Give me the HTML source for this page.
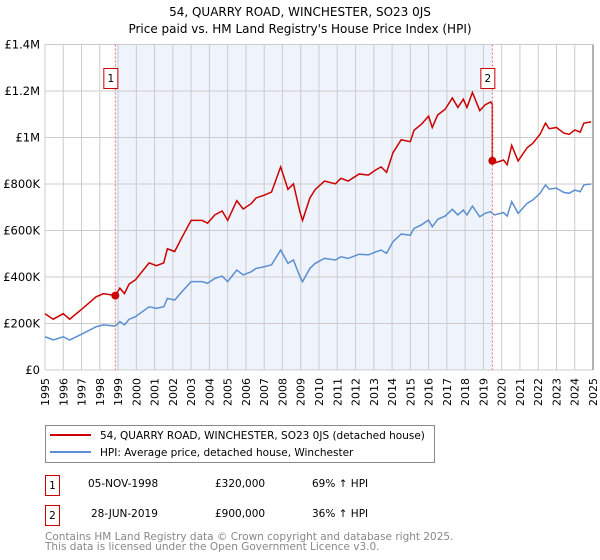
<!DOCTYPE html>
<html><head><meta charset="utf-8"><style>
body{margin:0;background:#fff;font-family:"DejaVu Sans","Liberation Sans",sans-serif}
svg{display:block}
</style></head><body>
<svg id="chart" width="600" height="560" xmlns="http://www.w3.org/2000/svg" font-family="DejaVu Sans, Liberation Sans, sans-serif">
<text x="300" y="16" text-anchor="middle" font-size="12">54, QUARRY ROAD, WINCHESTER, SO23 0JS</text>
<text x="300" y="33" text-anchor="middle" font-size="12">Price paid vs. HM Land Registry's House Price Index (HPI)</text>
<g id="plot"></g>
<g>
<rect x="45.5" y="425.5" width="389" height="37" fill="#fff" stroke="#888"/>
<line x1="50" y1="435" x2="91" y2="435" stroke="#cc0000" stroke-width="2"/>
<text x="100" y="439" font-size="10.5">54, QUARRY ROAD, WINCHESTER, SO23 0JS (detached house)</text>
<line x1="50" y1="452" x2="91" y2="452" stroke="#5b8fd1" stroke-width="2"/>
<text x="100" y="456" font-size="10.5">HPI: Average price, detached house, Winchester</text>
</g>
<g font-size="10.5">
<rect x="45.5" y="475.5" width="14" height="20" fill="#fff" stroke="#cc0000"/>
<text x="52.5" y="489" text-anchor="middle">1</text>
<text x="88" y="487">05-NOV-1998</text><text x="215" y="487">£320,000</text><text x="312" y="487">69% ↑ HPI</text>
<rect x="45.5" y="505.5" width="14" height="20" fill="#fff" stroke="#cc0000"/>
<text x="52.5" y="519" text-anchor="middle">2</text>
<text x="91" y="517">28-JUN-2019</text><text x="215" y="517">£900,000</text><text x="312" y="517">36% ↑ HPI</text>
</g>
<g font-size="10.5" fill="#888">
<text x="45" y="540">Contains HM Land Registry data © Crown copyright and database right 2025.</text>
<text x="45" y="550">This data is licensed under the Open Government Licence v3.0.</text>
</g>
</svg>
<script>
const hpiYears=[1995.0,1995.45,1996.0,1996.35,1997.1,1997.8,1998.2,1998.85,1999.1,1999.35,1999.6,1999.95,2000.7,2001.1,2001.5,2001.7,2002.1,2002.5,2003.0,2003.6,2003.9,2004.3,2004.7,2005.0,2005.5,2005.85,2006.3,2006.55,2007.0,2007.4,2007.9,2008.3,2008.6,2008.96,2009.1,2009.5,2009.8,2010.3,2010.9,2011.2,2011.6,2012.2,2012.7,2013.1,2013.4,2013.7,2014.05,2014.5,2015.0,2015.2,2015.6,2016.0,2016.2,2016.5,2016.9,2017.3,2017.6,2017.9,2018.1,2018.4,2018.8,2019.1,2019.4,2019.6,2020.1,2020.3,2020.55,2020.9,2021.4,2021.7,2022.1,2022.4,2022.6,2023.0,2023.4,2023.7,2024.0,2024.3,2024.5,2024.9];
const hpiValues=[143,129,143,129,158,186,194,189,208,194,218,229,272,265,272,308,301,337,380,380,373,394,404,380,430,409,423,437,444,452,516,459,473,401,380,437,459,480,473,487,480,498,495,508,516,502,552,585,580,609,624,645,616,648,662,691,667,688,667,705,659,674,681,667,677,662,724,674,717,731,760,796,778,782,764,760,774,767,796,800];
const saleDates=[1998.85,2019.49];
const salePrices=[320,900];
const saleLabels=["1","2"];
const yTicks=[0,200,400,600,800,1000,1200,1400];
const yTickLabels=["£0","£200K","£400K","£600K","£800K","£1M","£1.2M","£1.4M"];
const xTicks=[1995,1996,1997,1998,1999,2000,2001,2002,2003,2004,2005,2006,2007,2008,2009,2010,2011,2012,2013,2014,2015,2016,2017,2018,2019,2020,2021,2022,2023,2024,2025];

const X0=45,X1=593,Y0=370,Y1=44.5;
const xs=y=>X0+(y-1995)/30*(X1-X0);
const ys=v=>Y0-v/1400*(Y0-Y1);
const NS="http://www.w3.org/2000/svg";
const plot=document.getElementById('plot');
function mk(t,a,p){const e=document.createElementNS(NS,t);for(const k in a)e.setAttribute(k,a[k]);(p||plot).appendChild(e);return e;}
function hpiAt(t){for(let i=0;i<hpiYears.length-1;i++){if(t>=hpiYears[i]&&t<=hpiYears[i+1]){const f=(t-hpiYears[i])/(hpiYears[i+1]-hpiYears[i]);return hpiValues[i]+f*(hpiValues[i+1]-hpiValues[i]);}}return hpiValues[hpiValues.length-1];}

let bg=mk('rect',{x:X0,y:Y1,width:X1-X0,height:Y0-Y1,fill:'#fff'});


let sh=mk('rect',{x:xs(saleDates[0]),y:Y1,width:xs(saleDates[1])-xs(saleDates[0]),height:Y0-Y1,fill:'#eef3fc'});


xTicks.forEach(t=>{
 let g=mk('line',{x1:xs(t),x2:xs(t),y1:Y1,y2:Y0,stroke:'#ccc','stroke-width':1});
 
 
 let tx=mk('text',{x:0,y:0,'font-size':11,'text-anchor':'end',transform:`translate(${xs(t)+4},${Y0+8}) rotate(-90)`});
 tx.textContent=t;
 
 
});
yTicks.forEach((v,i)=>{
 let g=mk('line',{x1:X0,x2:X1,y1:ys(v),y2:ys(v),stroke:'#ccc','stroke-width':1});
 
 
 let tx=mk('text',{x:X0-5,y:ys(v)+4,'font-size':11.5,'text-anchor':'end'});
 tx.textContent=yTickLabels[i];
 
 
});
let rb=mk('line',{x1:X1,x2:X1,y1:Y1,y2:Y0,stroke:'#999','stroke-width':1.5});



let hp=mk('polyline',{points:hpiYears.map((t,i)=>xs(t)+','+ys(hpiValues[i])).join(' '),fill:'none',stroke:'#5b8fd1','stroke-width':1.5});



// property line: HPI-indexed from each sale price
const r0=salePrices[0]/hpiAt(saleDates[0]), r1=salePrices[1]/hpiAt(saleDates[1]);
let pts=[];
hpiYears.forEach((t,i)=>{ if(t<saleDates[1]) pts.push([t,hpiValues[i]*r0]); });
pts.push([saleDates[1],hpiAt(saleDates[1])*r0]);
pts.push([saleDates[1],salePrices[1]]);
hpiYears.forEach((t,i)=>{ if(t>saleDates[1]) pts.push([t,hpiValues[i]*r1]); });
let pl=mk('polyline',{points:pts.map(p=>xs(p[0])+','+ys(p[1])).join(' '),fill:'none',stroke:'#cc0000','stroke-width':1.5});



saleDates.forEach((d,i)=>{
 let v=mk('line',{x1:xs(d),x2:xs(d),y1:Y1,y2:Y0,stroke:'#f07070','stroke-dasharray':'2,2','stroke-width':1});
 
 
 let c=mk('circle',{cx:xs(d),cy:ys(salePrices[i]),r:4,fill:'#cc0000'});
 
 
 let b=mk('rect',{x:xs(d)-11.5,y:68.5,width:14,height:20,fill:'#fff',stroke:'#cc0000'});
 
 
 let t=mk('text',{x:xs(d)-4.5,y:82,'font-size':10.5,'text-anchor':'middle'});
 t.textContent=saleLabels[i];
 
 
});
</script>
</body></html>
